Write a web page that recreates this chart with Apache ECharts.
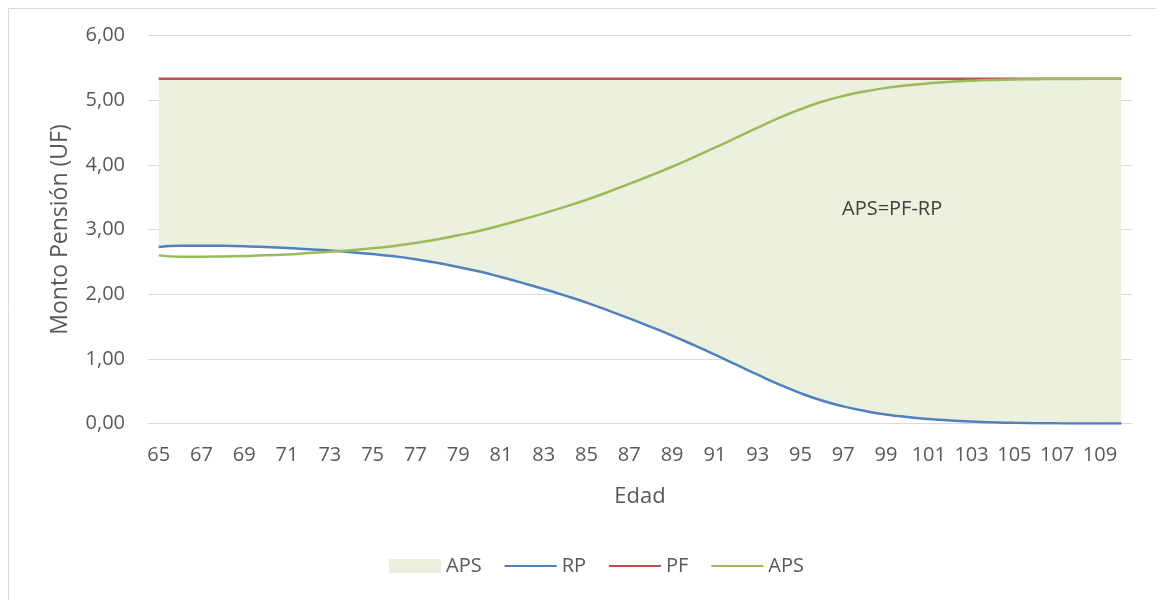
<!DOCTYPE html>
<html>
<head>
<meta charset="utf-8">
<script src="https://cdn.jsdelivr.net/npm/echarts@6/dist/echarts.min.js"></script>
<style>
html,body{margin:0;padding:0;background:#fff;}
#chart{width:1156px;height:600px;}
</style>
</head>
<body>
<div id="chart"></div>
<script>
var edades = [65,66,67,68,69,70,71,72,73,74,75,76,77,78,79,80,81,82,83,84,85,86,87,88,89,90,
	91,92,93,94,95,96,97,98,99,100,101,102,103,104,105,106,107,108,109,110];
var rp = [2.73,2.75,2.75,2.747,2.74,2.73,2.715,2.695,2.675,2.65,2.62,2.585,2.54,2.485,2.42,2.35,
	2.265,2.175,2.08,1.978,1.87,1.75,1.625,1.495,1.36,1.215,1.065,0.91,0.755,0.605,0.47,0.355,
	0.265,0.195,0.14,0.10,0.07,0.047,0.03,0.018,0.01,0.005,0.002,0.001,0,0];
var pf = [5.33,5.33,5.33,5.33,5.33,5.33,5.33,5.33,5.33,5.33,5.33,5.33,5.33,5.33,5.33,5.33,
	5.33,5.33,5.33,5.33,5.33,5.33,5.33,5.33,5.33,5.33,5.33,5.33,5.33,5.33,5.33,5.33,5.33,5.33,
	5.33,5.33,5.33,5.33,5.33,5.33,5.33,5.33,5.33,5.33,5.33,5.33];
var aps = [2.60,2.58,2.58,2.583,2.59,2.60,2.615,2.635,2.655,2.68,2.71,2.745,2.79,2.845,2.91,2.98,
	3.065,3.155,3.25,3.352,3.46,3.58,3.705,3.835,3.97,4.115,4.265,4.42,4.575,4.725,4.86,4.975,
	5.065,5.135,5.19,5.23,5.26,5.283,5.30,5.312,5.32,5.325,5.328,5.329,5.33,5.33];

var chart = echarts.init(document.getElementById('chart'));
var fuente = 'Open Sans';
var gris = '#595959';
var sinMarca = {opacity: 0};

var option = {
	animation: false,
	textStyle: {fontFamily: fuente},
	graphic: [
		{
			type: 'rect',
			z: 100,
			shape: {x: 8.5, y: 8.5, width: 1400, height: 800},
			style: {fill: 'none', stroke: '#D9D9D9', lineWidth: 1}
		},
		{
			type: 'text',
			z: 100,
			left: 842, top: 199,
			style: {text: 'APS=PF-RP', fill: '#404040', font: '20px "Open Sans"'}
		}
	],
	legend: {
		left: 384,
		top: 551,
		itemWidth: 52,
		itemHeight: 14,
		itemGap: 22,
		textStyle: {color: gris, fontSize: 20, fontFamily: fuente},
		formatter: function (name) { return name.trim(); },
		data: [
			{name: 'APS ', icon: 'rect', itemStyle: {color: '#EBF1DE'}},
			{name: 'RP', itemStyle: sinMarca},
			{name: 'PF', itemStyle: sinMarca},
			{name: 'APS', itemStyle: sinMarca}
		]
	},
	grid: {
		left: 148,
		right: 24,
		top: 35.5,
		bottom: 176.5
	},
	xAxis: {
		type: 'category',
		boundaryGap: true,
		data: edades,
		name: 'Edad',
		nameLocation: 'middle',
		nameGap: 62,
		nameTextStyle: {color: gris, fontSize: 22, fontFamily: fuente},
		axisLine: {lineStyle: {color: '#D9D9D9', width: 1}},
		axisTick: {show: false},
		axisLabel: {color: gris, fontSize: 20, fontFamily: fuente, interval: 1, margin: 22}
	},
	yAxis: {
		type: 'value',
		min: 0,
		max: 6,
		interval: 1,
		name: 'Monto Pensión (UF)',
		nameLocation: 'middle',
		nameGap: 76,
		nameTextStyle: {color: gris, fontSize: 23, fontFamily: fuente},
		axisLine: {show: false},
		axisTick: {show: false},
		axisLabel: {
			color: gris, fontSize: 20, fontFamily: fuente, margin: 23,
			formatter: function (v) { return v.toFixed(2).replace('.', ','); }
		},
		splitLine: {lineStyle: {color: '#D9D9D9', width: 1}}
	},
	series: [
		{
			name: 'base',
			type: 'line',
			stack: 'area',
			data: rp,
			smooth: true,
			symbol: 'none',
			lineStyle: {opacity: 0},
			silent: true
		},
		{
			name: 'APS ',
			type: 'line',
			stack: 'area',
			data: aps,
			smooth: true,
			symbol: 'none',
			itemStyle: {color: '#EBF1DE'},
			lineStyle: {opacity: 0},
			areaStyle: {color: '#EBF1DE', opacity: 1}
		},
		{
			name: 'RP',
			type: 'line',
			data: rp,
			smooth: true,
			symbol: 'none',
			itemStyle: {color: '#4F81BD'},
			lineStyle: {color: '#4F81BD', width: 2.5}
		},
		{
			name: 'PF',
			type: 'line',
			data: pf,
			smooth: true,
			symbol: 'none',
			itemStyle: {color: '#C0504D'},
			lineStyle: {color: '#C0504D', width: 2.5}
		},
		{
			name: 'APS',
			type: 'line',
			data: aps,
			smooth: true,
			symbol: 'none',
			itemStyle: {color: '#9BBB59'},
			lineStyle: {color: '#9BBB59', width: 2.5}
		}
	]
};
chart.setOption(option);
</script>
</body>
</html>
